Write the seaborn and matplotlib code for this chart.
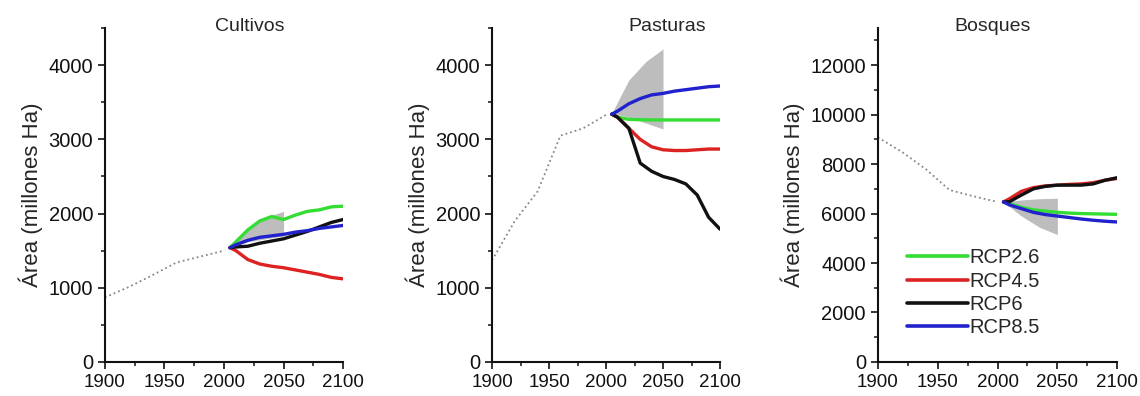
import pandas as pd
import matplotlib.pyplot as plt
import seaborn as sns
from matplotlib.ticker import MultipleLocator

# Datos (millones de Ha)
escenarios = ["RCP2.6", "RCP4.5", "RCP6", "RCP8.5"]
colores = {"RCP2.6": "#33dd33", "RCP4.5": "#dd2222", "RCP6": "#111111", "RCP8.5": "#2222cc"}

anios_hist = [1900, 1920, 1940, 1960, 1980, 2000]
anios_fut = [2005, 2010, 2020, 2030, 2040, 2050, 2060, 2070, 2080, 2090, 2100]
anios_banda = [2005, 2020, 2035, 2050]

# Cultivos
cult_hist = [870, 1010, 1170, 1340, 1420, 1500]
cult_rcp26 = [1540, 1620, 1780, 1900, 1960, 1920, 1980, 2030, 2050, 2090, 2100]
cult_rcp45 = [1540, 1500, 1380, 1320, 1290, 1270, 1240, 1210, 1180, 1140, 1120]
cult_rcp6 = [1540, 1550, 1560, 1600, 1630, 1660, 1710, 1760, 1820, 1880, 1920]
cult_rcp85 = [1540, 1580, 1640, 1680, 1700, 1720, 1750, 1770, 1800, 1820, 1840]
cult_banda_sup = [1540, 1800, 1950, 2030]
cult_banda_inf = [1540, 1620, 1660, 1700]

# Pasturas
past_hist = [1370, 1900, 2300, 3050, 3150, 3330]
past_rcp26 = [3340, 3300, 3270, 3265, 3262, 3262, 3262, 3262, 3262, 3262, 3262]
past_rcp45 = [3340, 3300, 3150, 3000, 2900, 2860, 2850, 2850, 2860, 2870, 2870]
past_rcp6 = [3340, 3300, 3150, 2680, 2570, 2500, 2460, 2400, 2250, 1950, 1790]
past_rcp85 = [3340, 3380, 3480, 3550, 3600, 3620, 3650, 3670, 3690, 3710, 3720]
past_banda_sup = [3350, 3800, 4050, 4220]
past_banda_inf = [3350, 3300, 3220, 3140]

# Bosques
bosq_hist = [9080, 8500, 7800, 6950, 6700, 6470]
bosq_rcp26 = [6470, 6400, 6250, 6150, 6100, 6050, 6020, 6000, 5990, 5980, 5970]
bosq_rcp45 = [6470, 6600, 6900, 7050, 7120, 7150, 7180, 7200, 7250, 7350, 7420]
bosq_rcp6 = [6470, 6480, 6750, 7000, 7100, 7150, 7150, 7150, 7200, 7350, 7450]
bosq_rcp85 = [6470, 6350, 6200, 6050, 5960, 5900, 5840, 5780, 5730, 5690, 5660]
bosq_banda_sup = [6470, 6550, 6600, 6620]
bosq_banda_inf = [6470, 5900, 5450, 5150]

paneles = [
    ("Cultivos", cult_hist, [cult_rcp26, cult_rcp45, cult_rcp6, cult_rcp85],
     cult_banda_sup, cult_banda_inf, 4500, 1000, 500, 0.61),
    ("Pasturas", past_hist, [past_rcp26, past_rcp45, past_rcp6, past_rcp85],
     past_banda_sup, past_banda_inf, 4500, 1000, 500, 0.77),
    ("Bosques", bosq_hist, [bosq_rcp26, bosq_rcp45, bosq_rcp6, bosq_rcp85],
     bosq_banda_sup, bosq_banda_inf, 13500, 2000, 1000, 0.48),
]

sns.set_style("ticks")
plt.rcParams["font.family"] = ["Liberation Sans", "DejaVu Sans"]

fig = plt.figure(figsize=(11.4, 3.96), dpi=100)
posiciones = [[0.092, 0.086, 0.209, 0.843],
              [0.4316, 0.086, 0.200, 0.843],
              [0.770, 0.086, 0.210, 0.843]]

for pos, (titulo, hist, series, b_sup, b_inf, ymax, ymaj, ymin, tx) in zip(posiciones, paneles):
    ax = fig.add_axes(pos)
    # banda gris de incertidumbre
    ax.fill_between(anios_banda, b_inf, b_sup, color="#bdbdbd", lw=0, zorder=1)
    # histórico punteado
    ax.plot(anios_hist, hist, ls=":", color="#888888", lw=1.3, zorder=2)
    df = pd.DataFrame({
        "anio": anios_fut * len(escenarios),
        "area": sum(series, []),
        "escenario": [e for e in escenarios for _ in anios_fut],
    })
    sns.lineplot(data=df, x="anio", y="area", hue="escenario", palette=colores,
                 hue_order=escenarios, lw=2.4, ax=ax, legend=(titulo == "Bosques"), zorder=3)
    ax.set_xlim(1900, 2100)
    ax.set_ylim(0, ymax)
    ax.xaxis.set_major_locator(MultipleLocator(50))
    ax.xaxis.set_minor_locator(MultipleLocator(25))
    ax.yaxis.set_major_locator(MultipleLocator(ymaj))
    ax.yaxis.set_minor_locator(MultipleLocator(ymin))
    ax.tick_params(which="major", length=5, width=1.2, colors="#111111")
    ax.tick_params(axis="y", labelsize=14.5)
    ax.tick_params(axis="x", labelsize=13.5)
    ax.tick_params(which="minor", length=3, width=1.2)
    sns.despine(ax=ax)
    for s in ["left", "bottom"]:
        ax.spines[s].set_linewidth(1.5)
        ax.spines[s].set_color("#111111")
    ax.set_xlabel("")
    ax.set_ylabel("Área (millones Ha)", fontsize=16)
    ax.text(tx, 1.005, titulo, transform=ax.transAxes, ha="center", va="center", fontsize=14)
    if titulo == "Bosques":
        leg = ax.legend(loc="upper left", bbox_to_anchor=(0.09, 0.365), frameon=False,
                        fontsize=14.5, handlelength=3.0, handletextpad=0.1,
                        labelspacing=0.22, borderaxespad=0, title=None)
        for l in leg.get_lines():
            l.set_linewidth(2.6)

fig.savefig("out.png", dpi=100)
